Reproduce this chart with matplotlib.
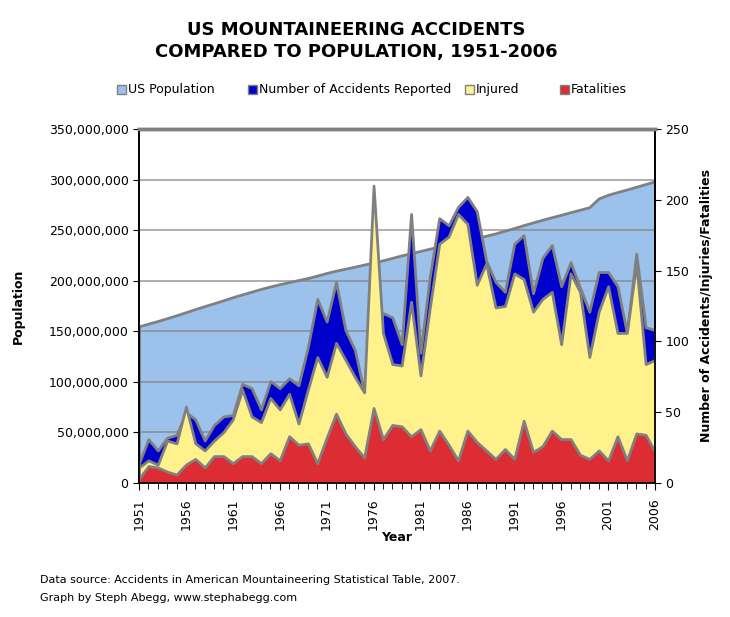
import matplotlib
matplotlib.use('Agg')
import matplotlib.pyplot as plt
from matplotlib.patches import Rectangle
from matplotlib.ticker import FuncFormatter

plt.rcParams['font.family'] = ['DejaVu Sans']

years = list(range(1951, 2007))

# US population, millions
population = [154.9, 157.6, 160.2, 163.0, 165.9, 168.9, 172.0, 174.9, 177.8, 180.7,
              183.7, 186.5, 189.2, 191.9, 194.3, 196.6, 198.7, 200.7, 202.7, 205.1,
              207.7, 209.9, 211.9, 213.9, 216.0, 218.0, 220.2, 222.6, 225.1, 227.2,
              229.5, 231.7, 233.8, 235.8, 237.9, 240.1, 242.3, 244.5, 246.8, 249.5,
              252.1, 255.0, 257.7, 260.3, 262.8, 265.2, 267.8, 270.2, 272.7, 281.4,
              285.0, 287.7, 290.2, 292.9, 295.6, 298.4]

accidents = [14, 31, 23, 32, 34, 50, 45, 30, 41, 47,
             48, 70, 67, 52, 72, 67, 74, 69, 96, 130,
             114, 142, 108, 94, 64, 100, 120, 117, 98, 190,
             92, 146, 187, 182, 195, 202, 192, 157, 142, 135,
             169, 175, 134, 159, 168, 139, 156, 138, 121, 149,
             149, 139, 106, 162, 110, 108]

injured = [11, 16, 13, 30, 28, 54, 28, 23, 30, 36,
           45, 66, 47, 43, 60, 52, 63, 42, 66, 89,
           75, 99, 87, 75, 64, 210, 106, 84, 83, 128,
           76, 124, 169, 174, 190, 183, 140, 155, 124, 125,
           148, 144, 121, 130, 135, 98, 148, 135, 89, 121,
           139, 106, 106, 155, 84, 87]

fatalities = [3, 12, 11, 8, 6, 13, 17, 11, 19, 19,
              14, 19, 19, 14, 21, 16, 33, 27, 28, 14,
              32, 49, 35, 26, 18, 53, 31, 41, 40, 33,
              38, 23, 37, 27, 16, 37, 29, 23, 17, 24,
              17, 44, 22, 26, 37, 31, 31, 20, 17, 23,
              16, 33, 16, 35, 34, 22]

c_pop = '#9cc2eb'
c_acc = '#0000cc'
c_inj = '#fff28c'
c_fat = '#dc2d34'
edge = '#808080'

fig = plt.figure(figsize=(7.3, 6.17), dpi=100)
ax = fig.add_axes([139/730, 134/617, 516/730, 354/617])

ax.fill_between(years, [p * 1e6 for p in population], color=c_pop, edgecolor=edge, lw=2, zorder=1)
ax.set_xlim(1951, 2006)
ax.set_ylim(0, 350e6)
ax.set_yticks(range(0, 350000001, 50000000))
ax.yaxis.set_major_formatter(FuncFormatter(lambda v, p: '{:,.0f}'.format(v)))
ax.yaxis.grid(True, color='#7f7f7f', lw=1.1, alpha=0.8)
ax.set_axisbelow(False)

ax.set_xticks(range(1951, 2007, 5))
ax.set_xticks(years, minor=True)
ax.set_xticklabels([str(y) for y in range(1951, 2007, 5)], rotation=90)
ax.tick_params(axis='both', which='both', direction='out', labelsize=9, color='black')
ax.tick_params(axis='x', which='major', length=5, pad=6)
ax.tick_params(axis='x', which='minor', length=4)
ax.tick_params(axis='y', length=4)

ax2 = ax.twinx()
ax2.fill_between(years, accidents, color=c_acc, edgecolor=edge, lw=2)
ax2.fill_between(years, injured, color=c_inj, edgecolor=edge, lw=2)
ax2.fill_between(years, fatalities, color=c_fat, edgecolor=edge, lw=2)
ax2.set_ylim(0, 250)
ax2.set_yticks(range(0, 251, 50))
ax2.tick_params(axis='y', direction='out', length=4, labelsize=9)

for a in (ax, ax2):
    a.spines['top'].set_color(edge)
    a.spines['top'].set_linewidth(2.5)
    a.spines['left'].set_color('black')
    a.spines['right'].set_color('black')
    a.spines['bottom'].set_color('black')
    a.spines['left'].set_linewidth(1.2)
    a.spines['right'].set_linewidth(1.2)
    a.spines['bottom'].set_linewidth(1.2)

ax.set_ylabel('Population', fontsize=9, fontweight='bold')
ax.yaxis.set_label_coords((25 - 139) / 516, 0.5)
ax.set_xlabel('Year', fontsize=9, fontweight='bold')
ax.xaxis.set_label_coords(0.5, (483 - 531) / 354)
ax2.set_ylabel('Number of Accidents/Injuries/Fatalities', fontsize=9, fontweight='bold')
ax2.yaxis.set_label_coords((700 - 139) / 516, 0.5)

fig.text(356/730, 1 - 41/617, 'US MOUNTAINEERING ACCIDENTS\nCOMPARED TO POPULATION, 1951-2006',
         ha='center', va='center', fontsize=13, fontweight='bold', linespacing=1.3)

# legend drawn by hand to keep the uneven spacing
leg_items = [('US Population', c_pop, 117), ('Number of Accidents Reported', c_acc, 248),
             ('Injured', c_inj, 465), ('Fatalities', c_fat, 560)]
for label, col, x in leg_items:
    fig.patches.append(Rectangle((x / 730, 1 - 94/617), 9/730, 9/617, transform=fig.transFigure,
                                 facecolor=col, edgecolor=edge, lw=1))
    fig.text((x + 11) / 730, 1 - 89.5/617, label, fontsize=9, va='center', ha='left')

fig.text(40/730, 1 - 580/617, 'Data source: Accidents in American Mountaineering Statistical Table, 2007.',
         fontsize=8, va='center')
fig.text(40/730, 1 - 598/617, 'Graph by Steph Abegg, www.stephabegg.com', fontsize=8, va='center')

fig.savefig('out.png', dpi=100)
